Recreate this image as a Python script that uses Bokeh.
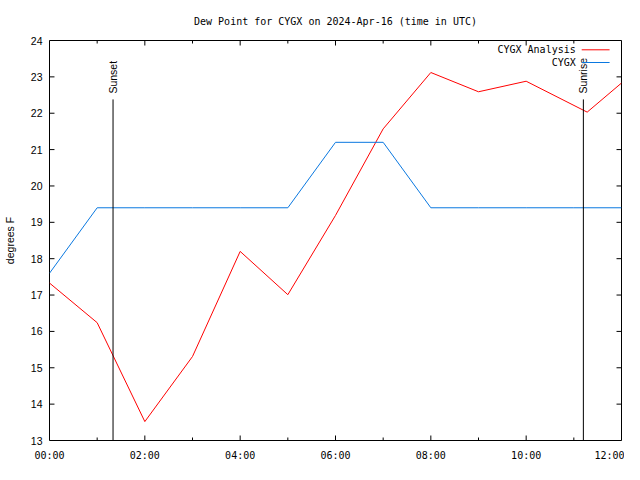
import numpy as np
from bokeh.plotting import figure
from bokeh.models import FixedTicker, LinearAxis, Range1d
from bokeh.core.properties import value
from bokeh.embed import file_html
from bokeh.resources import INLINE

# ---------------- data ----------------
chart_title = "Dew Point for CYGX on 2024-Apr-16 (time in UTC)"
y_axis_label = "degrees F"

series_names = ["CYGX Analysis", "CYGX"]

analysis_hours = [0, 1, 2, 3, 4, 5, 6, 7, 8, 9, 10, 11.28, 12]
analysis_dewpt = [17.33, 16.24, 13.52, 15.31, 18.20, 17.01, 19.19, 21.57, 23.12, 22.59, 22.88, 22.03, 22.83]

obs_hours = [0, 1, 2, 3, 4, 5, 6, 7, 8, 9, 10, 11, 12]
obs_dewpt = [17.6, 19.4, 19.4, 19.4, 19.4, 19.4, 21.2, 21.2, 19.4, 19.4, 19.4, 19.4, 19.4]

sun_events = ["Sunset", "Sunrise"]
sun_hours = [1.333, 11.2]
sun_marker_top = 22.38

x_tick_hours = [0, 2, 4, 6, 8, 10, 12]
x_tick_labels = ["00:00", "02:00", "04:00", "06:00", "08:00", "10:00", "12:00"]
x_minor_hours = [1, 3, 5, 7, 9, 11]
y_ticks = list(range(13, 25))

X0, X1 = 0, 12
Y0, Y1 = 13, 24

RED = "#ff0000"
BLUE = "#0a78e0"
MONO = "DejaVu Sans Mono"
SANS = "Liberation Sans"

FRAME_W, FRAME_H = 574, 400

# ---------------- figure ----------------
p = figure(width=624, height=464,
           x_range=Range1d(X0, X1), y_range=Range1d(Y0, Y1),
           output_backend="svg", toolbar_location=None,
           x_axis_location=None, y_axis_location=None,
           min_border_left=47, min_border_right=3,
           min_border_top=40, min_border_bottom=24,
           title=chart_title)
p.grid.visible = False
p.outline_line_color = "black"
p.outline_line_width = 1
p.background_fill_color = "white"
p.border_fill_color = "white"

p.title.text_font = MONO
p.title.text_font_size = "10px"
p.title.text_font_style = "normal"
p.title.text_color = "black"
p.title.align = "center"
p.title.standoff = 27

def style_axis(ax):
    ax.axis_line_color = None
    ax.major_tick_in = 0
    ax.major_tick_out = 0
    ax.minor_tick_in = 0
    ax.minor_tick_out = 0
    ax.major_label_text_color = "black"
    ax.axis_label_text_color = "black"

left = LinearAxis(ticker=FixedTicker(ticks=y_ticks), axis_label=y_axis_label)
style_axis(left)
left.major_label_text_font = SANS
left.major_label_text_font_size = "10.5px"
left.major_label_standoff = 7
left.axis_label_text_font = SANS
left.axis_label_text_font_size = "10.5px"
left.axis_label_text_font_style = "normal"
left.axis_label_standoff = 12
p.add_layout(left, "left")

bottom = LinearAxis(ticker=FixedTicker(ticks=x_tick_hours, minor_ticks=x_minor_hours),
                    major_label_overrides={h: l for h, l in zip(x_tick_hours, x_tick_labels)})
style_axis(bottom)
bottom.major_label_text_font = MONO
bottom.major_label_text_font_size = "10px"
bottom.major_label_standoff = 9
p.add_layout(bottom, "below")

# ---------------- inward tick marks on all four sides (gnuplot style) ----------------
px_x = (X1 - X0) / FRAME_W   # hours per pixel
px_y = (Y1 - Y0) / FRAME_H   # degF per pixel
MAJ, MIN = 5, 3
for ticks, length in ((x_tick_hours, MAJ), (x_minor_hours, MIN)):
    n = len(ticks)
    p.segment(x0=list(ticks), y0=[Y0] * n, x1=list(ticks), y1=[Y0 + length * px_y] * n,
              line_color="black", line_width=1)
    p.segment(x0=list(ticks), y0=[Y1] * n, x1=list(ticks), y1=[Y1 - length * px_y] * n,
              line_color="black", line_width=1)
n = len(y_ticks)
p.segment(x0=[X0] * n, y0=list(y_ticks), x1=[X0 + MAJ * px_x] * n, y1=list(y_ticks),
          line_color="black", line_width=1)
p.segment(x0=[X1] * n, y0=list(y_ticks), x1=[X1 - MAJ * px_x] * n, y1=list(y_ticks),
          line_color="black", line_width=1)

# ---------------- series ----------------
p.line(analysis_hours, analysis_dewpt, line_color=RED, line_width=1)
p.line(obs_hours, obs_dewpt, line_color=BLUE, line_width=1)

# ---------------- sunset / sunrise ----------------
p.segment(x0=sun_hours, y0=[Y0] * len(sun_hours), x1=sun_hours, y1=[sun_marker_top] * len(sun_hours),
          line_color="black", line_width=1)
p.text(x=sun_hours, y=[sun_marker_top + 0.16] * len(sun_hours), text=sun_events,
       angle=np.pi / 2, text_align="left", text_baseline="middle",
       text_font=value(SANS), text_font_size="10.5px", text_color="black")

# ---------------- legend (gnuplot style: label then sample) ----------------
leg_text_x = 11.04
leg_line_x0, leg_line_x1 = 11.165, 11.75
leg_rows_y = [23.744, 23.395]
p.text(x=[leg_text_x] * 2, y=leg_rows_y, text=series_names,
       text_align="right", text_baseline="middle",
       text_font=value(MONO), text_font_size="10px", text_color="black")
p.segment(x0=[leg_line_x0] * 2, y0=leg_rows_y, x1=[leg_line_x1] * 2, y1=leg_rows_y,
          line_color=[RED, BLUE], line_width=1)

open("out.html", "w").write(file_html(p, INLINE))
